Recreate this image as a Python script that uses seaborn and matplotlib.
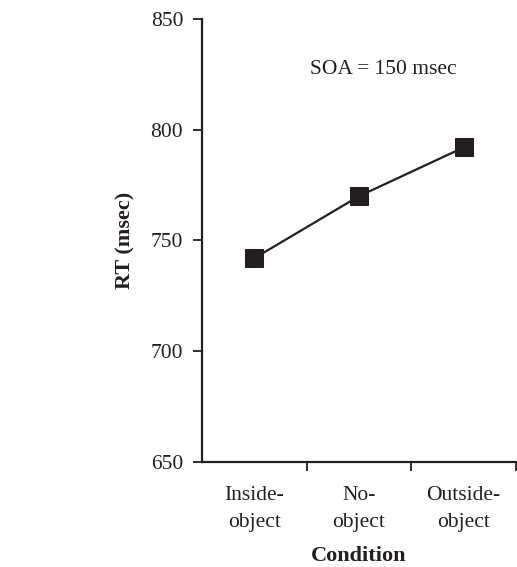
import pandas as pd
import seaborn as sns
import matplotlib.pyplot as plt
from matplotlib.ticker import FixedLocator

conditions = ['Inside-\nobject', 'No-\nobject', 'Outside-\nobject']
rt = [742, 770, 792]
y_ticks = [650, 700, 750, 800, 850]

df = pd.DataFrame({'pos': range(len(conditions)), 'rt': rt})

sns.set_style("ticks")
plt.rcParams['font.family'] = ['Liberation Serif', 'DejaVu Serif']
ink = '#231f20'

fig = plt.figure(figsize=(5.17, 5.67), dpi=100, facecolor='w')
ax = fig.add_axes([0.3907, 0.1852, 0.6073, 0.7813])
sns.lineplot(x='pos', y='rt', data=df, ax=ax, color=ink, linewidth=1.6,
             marker='s', markersize=13.5, markeredgecolor=ink, markerfacecolor=ink)

ax.set_xlim(-0.5, 2.5)
ax.set_ylim(650, 850)
ax.set_yticks(y_ticks)
ax.set_yticklabels([str(v) for v in y_ticks], fontsize=15.5, color=ink)
ax.xaxis.set_major_locator(FixedLocator([0.5, 1.5, 2.5]))
ax.xaxis.set_major_formatter(plt.NullFormatter())
ax.xaxis.set_minor_locator(FixedLocator([0, 1, 2]))
ax.set_xticklabels(conditions, minor=True, fontsize=15.5, color=ink, linespacing=1.6)
ax.tick_params(axis='x', which='minor', length=0, pad=17)
ax.tick_params(axis='both', which='major', length=6.5, width=1.3, color=ink, labelcolor=ink)
ax.tick_params(axis='y', which='major', pad=7)

for s in ['top', 'right']:
    ax.spines[s].set_visible(False)
for s in ['left', 'bottom']:
    ax.spines[s].set_color(ink)
    ax.spines[s].set_linewidth(1.6)
ax.spines['bottom'].set_clip_on(False)

ax.set_xlabel('Condition', fontsize=16, fontweight='bold', color=ink, labelpad=10)
ax.set_ylabel('RT (msec)', fontsize=16, fontweight='bold', color=ink, labelpad=11)
ax.text(1.23, 827, 'SOA = 150 msec', fontsize=15.5, color=ink, ha='center', va='center')

plt.savefig('out.png', dpi=100)
